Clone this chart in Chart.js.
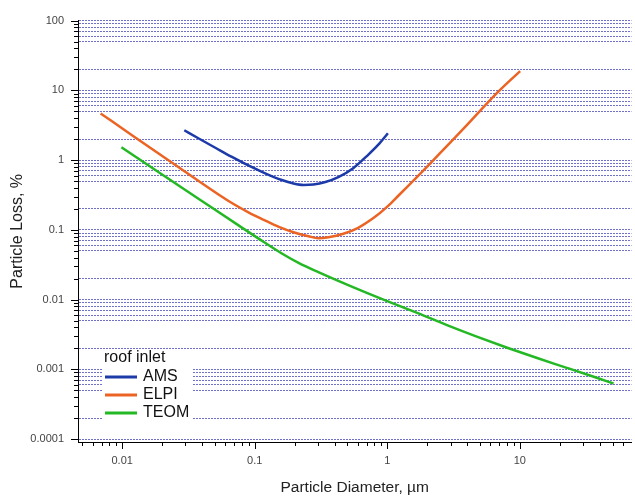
<!DOCTYPE html>
<html>
<head>
<meta charset="utf-8">
<script src="https://cdn.jsdelivr.net/npm/chart.js@4.4.1/dist/chart.umd.min.js"></script>
<style>
  body { margin: 0; background: #fff; }
</style>
</head>
<body>
<canvas id="lossChart" width="635" height="499"></canvas>
<script>
// particle diameter (um) and loss (%)
var amsX = [0.0294, 0.0381, 0.0508, 0.0673, 0.0903, 0.121, 0.160, 0.196, 0.233, 0.277, 0.341, 0.427, 0.553, 0.717, 0.852, 1.01];
var amsY = [2.68, 2.02, 1.49, 1.11, 0.830, 0.640, 0.518, 0.462, 0.440, 0.447, 0.485, 0.571, 0.766, 1.19, 1.65, 2.43];

var elpiX = [0.00687, 0.0120, 0.0270, 0.0639, 0.0903, 0.117, 0.152, 0.196, 0.254, 0.302, 0.359, 0.466, 0.603, 0.781, 1.01, 1.20, 2.13, 3.82, 6.76, 10.05];
var elpiY = [4.67, 2.24, 0.778, 0.257, 0.177, 0.139, 0.110, 0.0922, 0.0809, 0.0758, 0.0783, 0.0878, 0.107, 0.146, 0.219, 0.303, 0.915, 2.91, 9.25, 18.9];

var teomX = [0.00986, 0.0191, 0.0381, 0.0760, 0.117, 0.165, 0.214, 0.302, 0.507, 1.01, 1.70, 2.85, 4.79, 8.03, 13.5, 22.6, 38.0, 50.9];
var teomY = [1.53, 0.657, 0.275, 0.115, 0.0670, 0.0443, 0.0336, 0.0247, 0.0161, 0.0094, 0.00638, 0.00427, 0.00292, 0.00204, 0.00145, 0.00105, 0.000756, 0.000626];

var xLabels = [0.01, 0.1, 1, 10];
var yLabels = [0.0001, 0.001, 0.01, 0.1, 1, 10, 100];
var gridMantissas = [1, 2, 5, 6, 7, 8, 9];

var xMin = 0.00464, xMax = 69.5;
var yMin = 0.0000907, yMax = 100;

function toPoints(xs, ys) {
  return xs.map(function (x, i) { return { x: x, y: ys[i] }; });
}

// 1..9 x every decade, kept inside the axis range
function logTicks(min, max) {
  var out = [];
  for (var e = Math.floor(Math.log10(min)); e <= Math.ceil(Math.log10(max)); e++) {
    for (var m = 1; m <= 9; m++) {
      var v = m * Math.pow(10, e);
      if (v >= min * 0.999 && v <= max * 1.001) out.push(v);
    }
  }
  return out;
}

function mantissa(v) {
  var e = Math.floor(Math.log10(v) + 1e-9);
  return Math.round(v / Math.pow(10, e));
}

function isLabel(v, list) {
  return list.some(function (m) { return Math.abs(Math.log10(v / m)) < 1e-6; });
}

// inset legend with a white box, like the original
var insetLegend = {
  id: 'insetLegend',
  beforeDatasetsDraw: function (chart) {
    var ctx = chart.ctx;
    ctx.save();
    ctx.fillStyle = '#fff';
    ctx.fillRect(102, 350, 90, 73);
    ctx.fillStyle = '#111';
    ctx.font = '16px "Liberation Sans", Arial, sans-serif';
    ctx.textBaseline = 'middle';
    ctx.fillText('roof inlet', 104, 358);
    chart.data.datasets.forEach(function (ds, i) {
      var y = 377 + i * 18;
      ctx.strokeStyle = ds.borderColor;
      ctx.lineWidth = 3;
      ctx.beginPath();
      ctx.moveTo(105, y);
      ctx.lineTo(137, y);
      ctx.stroke();
      ctx.fillStyle = '#111';
      ctx.fillText(ds.label, 143, y);
    });
    ctx.restore();
  }
};

// long ticks at decades, short ones in between
var axisTicks = {
  id: 'axisTicks',
  afterDraw: function (chart) {
    var ctx = chart.ctx;
    var xs = chart.scales.x, ys = chart.scales.y;
    ctx.save();
    ctx.strokeStyle = '#000';
    ctx.lineWidth = 1;
    ctx.beginPath();
    xs.ticks.forEach(function (t) {
      var px = Math.round(xs.getPixelForValue(t.value)) + 0.5;
      var len = mantissa(t.value) === 1 ? 7 : 4;
      ctx.moveTo(px, xs.top);
      ctx.lineTo(px, xs.top + len);
    });
    ys.ticks.forEach(function (t) {
      var py = Math.round(ys.getPixelForValue(t.value)) + 0.5;
      var len = mantissa(t.value) === 1 ? 7 : 4;
      ctx.moveTo(ys.right, py);
      ctx.lineTo(ys.right - len, py);
    });
    ctx.stroke();
    ctx.restore();
  }
};

Chart.defaults.font.family = '"Liberation Sans", Arial, sans-serif';

var ctx = document.getElementById('lossChart');

var lossChart = new Chart(ctx, {
  type: 'scatter',
  data: {
    datasets: [
      { label: 'AMS', data: toPoints(amsX, amsY), borderColor: '#1c3aa8' },
      { label: 'ELPI', data: toPoints(elpiX, elpiY), borderColor: '#ec6424' },
      { label: 'TEOM', data: toPoints(teomX, teomY), borderColor: '#25b825' }
    ]
  },
  options: {
    responsive: false,
    animation: false,
    layout: { padding: { top: 15, right: 0, bottom: 0, left: 0 } },
    elements: {
      line: { borderWidth: 2.5, cubicInterpolationMode: 'monotone', fill: false },
      point: { radius: 0, hoverRadius: 0 }
    },
    datasets: { scatter: { showLine: true } },
    plugins: {
      legend: { display: false },
      tooltip: { enabled: false }
    },
    scales: {
      x: {
        type: 'logarithmic',
        min: xMin,
        max: xMax,
        afterBuildTicks: function (scale) {
          scale.ticks = logTicks(xMin, xMax).map(function (v) { return { value: v }; });
        },
        afterFit: function (scale) { scale.height = 57; },
        grid: { display: false, drawTicks: false },
        border: { display: true, color: '#000', width: 1 },
        ticks: {
          autoSkip: false,
          maxRotation: 0,
          padding: 12,
          color: '#444',
          font: { size: 11 },
          callback: function (v) { return isLabel(v, xLabels) ? String(v) : ''; }
        },
        title: {
          display: true,
          text: 'Particle Diameter, µm',
          color: '#222',
          font: { size: 15.5 },
          padding: { top: 0, bottom: 2 }
        }
      },
      y: {
        type: 'logarithmic',
        min: yMin,
        max: yMax,
        afterBuildTicks: function (scale) {
          scale.ticks = logTicks(yMin, yMax).map(function (v) { return { value: v }; });
        },
        afterFit: function (scale) { scale.width = 78; },
        grid: {
          drawTicks: false,
          lineWidth: 1,
          color: function (c) {
            if (!c.tick) return 'transparent';
            return gridMantissas.indexOf(mantissa(c.tick.value)) >= 0 ? '#7070c8' : 'transparent';
          }
        },
        // in v4 border.dash is what dashes the grid lines
        border: { display: true, color: '#000', width: 1, dash: [2, 1] },
        ticks: {
          autoSkip: false,
          padding: 14,
          color: '#444',
          font: { size: 11 },
          callback: function (v) { return isLabel(v, yLabels) ? String(v) : ''; }
        },
        title: {
          display: true,
          text: 'Particle Loss, %',
          color: '#222',
          font: { size: 16 },
          padding: { top: 8, bottom: 0 }
        }
      }
    }
  },
  plugins: [insetLegend, axisTicks]
});
</script>
</body>
</html>
